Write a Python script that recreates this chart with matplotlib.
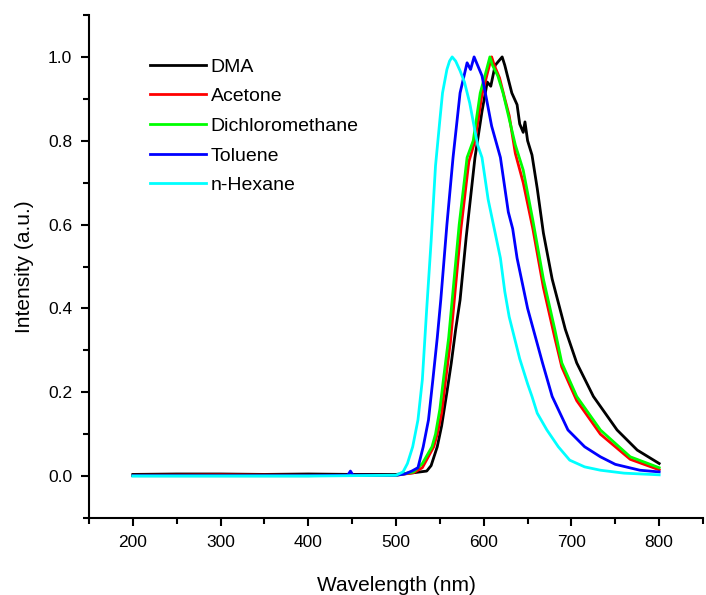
#!/usr/bin/env python3
"""
Normalised emission spectra of the dye in five solvents.
"""

import matplotlib
matplotlib.use('Agg')
import matplotlib.pyplot as plt
from matplotlib.ticker import MultipleLocator, FormatStrFormatter

plt.rcParams['font.family'] = ['Liberation Sans', 'DejaVu Sans']

# Values (wavelength in nm, normalised intensity)
dma_wl = [200, 250, 300, 350, 400, 450, 500, 520, 535, 540, 547, 552, 558, 563,
          568, 573, 580, 590, 598, 604, 608, 613, 617, 621, 624, 627, 632, 638,
          641, 645, 647, 650, 655, 661, 668, 678, 693, 706, 725, 752, 775, 800]
dma_int = [0.004, 0.005, 0.005, 0.004, 0.005, 0.004, 0.004, 0.008, 0.012, 0.025,
           0.07, 0.12, 0.2, 0.27, 0.35, 0.42, 0.57, 0.76, 0.87, 0.94, 0.93, 0.98,
           0.99, 1.0, 0.98, 0.955, 0.914, 0.886, 0.84, 0.82, 0.845, 0.80, 0.766,
           0.686, 0.58, 0.47, 0.35, 0.27, 0.19, 0.11, 0.062, 0.03]

acetone_wl = [200, 300, 400, 500, 520, 530, 543, 547, 552, 556, 562, 566, 574,
              583, 590, 598, 604, 609, 612, 618, 624, 629, 636, 645, 656, 668,
              681, 689, 706, 733, 767, 800]
acetone_int = [0.002, 0.003, 0.002, 0.002, 0.008, 0.02, 0.07, 0.1, 0.15, 0.22,
               0.32, 0.41, 0.59, 0.75, 0.80, 0.91, 0.96, 1.0, 0.98, 0.95, 0.90,
               0.86, 0.77, 0.70, 0.59, 0.45, 0.33, 0.26, 0.18, 0.10, 0.04, 0.015]

dcm_wl = [200, 300, 400, 500, 520, 530, 541, 545, 550, 554, 560, 564, 572, 581,
          588, 596, 602, 607, 610, 616, 622, 627, 636, 645, 656, 668, 681, 689,
          706, 733, 767, 800]
dcm_int = [0.001, 0.001, 0.001, 0.002, 0.01, 0.03, 0.07, 0.1, 0.16, 0.23, 0.33,
           0.42, 0.6, 0.76, 0.80, 0.914, 0.96, 1.0, 0.98, 0.955, 0.914, 0.87,
           0.79, 0.73, 0.61, 0.47, 0.35, 0.27, 0.19, 0.11, 0.046, 0.02]

toluene_wl = [200, 300, 400, 445, 448, 451, 500, 510, 518, 525, 531, 537, 542,
              547, 551, 558, 565, 573, 581, 585, 589, 593, 598, 604, 609, 615,
              619, 628, 633, 638, 650, 667, 678, 696, 715, 733, 750, 778, 800]
toluene_int = [0.001, 0.001, 0.001, 0.002, 0.012, 0.002, 0.002, 0.005, 0.012,
               0.02, 0.07, 0.134, 0.23, 0.33, 0.42, 0.6, 0.76, 0.914, 0.986,
               0.97, 1.0, 0.98, 0.955, 0.89, 0.835, 0.79, 0.76, 0.63, 0.59, 0.52,
               0.40, 0.27, 0.19, 0.11, 0.07, 0.046, 0.028, 0.014, 0.01]

hexane_wl = [200, 300, 400, 500, 508, 513, 519, 525, 530, 535, 540, 545, 550,
             553, 558, 561, 564, 568, 573, 578, 584, 593, 598, 605, 612, 619,
             624, 629, 635, 641, 650, 655, 661, 672, 685, 698, 715, 733, 760, 800]
hexane_int = [0.0, 0.0, 0.0, 0.002, 0.01, 0.03, 0.07, 0.134, 0.23, 0.40, 0.56,
              0.74, 0.85, 0.914, 0.97, 0.99, 1.0, 0.99, 0.967, 0.94, 0.89, 0.79,
              0.76, 0.66, 0.59, 0.52, 0.44, 0.38, 0.33, 0.28, 0.22, 0.19, 0.15,
              0.11, 0.07, 0.038, 0.022, 0.014, 0.007, 0.003]

SERIES = [
    ('DMA', dma_wl, dma_int, '#000000'),
    ('Acetone', acetone_wl, acetone_int, '#ff0000'),
    ('Dichloromethane', dcm_wl, dcm_int, '#00ff00'),
    ('Toluene', toluene_wl, toluene_int, '#0000ff'),
    ('n-Hexane', hexane_wl, hexane_int, '#00ffff'),
]


def main():
    fig = plt.figure(figsize=(7.06, 5.95), dpi=100)
    ax = fig.add_axes([0.1261, 0.1294, 0.8697, 0.8454])

    for label, wl, inten, color in SERIES:
        ax.plot(wl, inten, color=color, linewidth=2.0, label=label)

    ax.set_xlim(150, 850)
    ax.set_ylim(-0.1, 1.1)
    ax.xaxis.set_minor_locator(MultipleLocator(50))
    ax.yaxis.set_minor_locator(MultipleLocator(0.1))
    ax.set_xticks([200, 300, 400, 500, 600, 700, 800])
    ax.set_yticks([0.0, 0.2, 0.4, 0.6, 0.8, 1.0])
    ax.yaxis.set_major_formatter(FormatStrFormatter('%.1f'))

    for side in ('top', 'right'):
        ax.spines[side].set_visible(False)
    for side in ('left', 'bottom'):
        ax.spines[side].set_linewidth(1.5)

    ax.tick_params(which='major', direction='out', length=6, width=1.5,
                   labelsize=12.5, pad=6)
    ax.tick_params(which='minor', direction='out', length=4, width=1.5)

    ax.set_xlabel('Wavelength (nm)', fontsize=15, labelpad=19)
    ax.set_ylabel('Intensity (a.u.)', fontsize=15, labelpad=10)

    ax.legend(loc='upper left', bbox_to_anchor=(0.086, 0.93), frameon=False,
              fontsize=14, handlelength=2.9, handletextpad=0.25,
              labelspacing=0.62, borderaxespad=0)

    fig.savefig('out.png', dpi=100)
    plt.close(fig)


if __name__ == '__main__':
    main()
